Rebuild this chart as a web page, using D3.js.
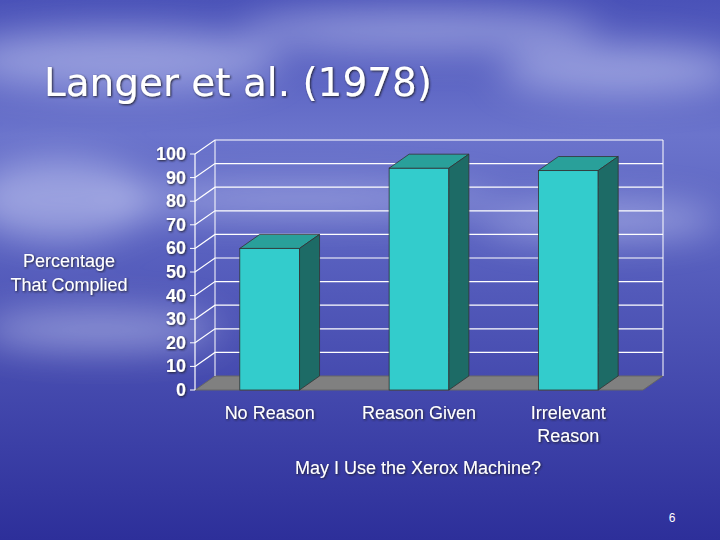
<!DOCTYPE html>
<html><head><meta charset="utf-8">
<script src="https://cdn.jsdelivr.net/npm/d3@7"></script>
<style>body{margin:0}svg{display:block}</style>
</head><body>
<script>
var categories = [['No Reason'], ['Reason Given'], ['Irrelevant', 'Reason']];
var values = [60, 94, 93];
var ticks = [0, 10, 20, 30, 40, 50, 60, 70, 80, 90, 100];

var W = 720, H = 540, dx = 20, dy = -14;
var svg = d3.select('body').append('svg').attr('width', W).attr('height', H);
var defs = svg.append('defs');
var bg = defs.append('linearGradient').attr('id', 'bg').attr('x1', 0).attr('y1', 0).attr('x2', 0).attr('y2', 1);
bg.append('stop').attr('offset', 0).attr('stop-color', '#4a52b8');
bg.append('stop').attr('offset', 0.25).attr('stop-color', '#6b74cc');
bg.append('stop').attr('offset', 0.45).attr('stop-color', '#5a62c0');
bg.append('stop').attr('offset', 1).attr('stop-color', '#2d2f9a');
defs.append('filter').attr('id', 'blur').append('feGaussianBlur').attr('stdDeviation', 18);
var sh = defs.append('filter').attr('id', 'sh');
sh.append('feDropShadow').attr('dx', 1).attr('dy', 1).attr('stdDeviation', 0.8).attr('flood-color', '#223');

svg.append('rect').attr('width', W).attr('height', H).attr('fill', 'url(#bg)');
// clouds
var clouds = [[120, 60, 160, 30], [420, 30, 180, 20], [620, 70, 120, 25], [60, 200, 90, 40], [300, 200, 200, 15], [600, 220, 120, 18], [100, 330, 120, 20]];
svg.append('g').attr('filter', 'url(#blur)').selectAll('ellipse').data(clouds).enter().append('ellipse')
  .attr('cx', d => d[0]).attr('cy', d => d[1]).attr('rx', d => d[2]).attr('ry', d => d[3])
  .attr('fill', '#dfe4ff').attr('opacity', 0.45);

svg.append('text').attr('x', 44).attr('y', 96).attr('font-family', 'Verdana, DejaVu Sans, sans-serif')
  .attr('font-size', 39).attr('textLength', 388).attr('fill', '#fff').attr('filter', 'url(#sh)').text('Langer et al. (1978)');

var x0 = 195, x1 = 643;
var y = d3.scaleLinear().domain([0, 100]).range([390, 154]);
var x = d3.scaleBand().domain(d3.range(categories.length)).range([x0, x1]).paddingInner(0.6).paddingOuter(0.3);

var g = svg.append('g');
var line = '#fff';
// floor
g.append('path').attr('d', `M${x0},390 L${x1},390 L${x1 + dx},${390 + dy} L${x0 + dx},${390 + dy}Z`)
  .attr('fill', '#808080').attr('stroke', '#666');
// grid on side and back walls
ticks.forEach(function(t) {
  if (t === 0) return;
  g.append('path').attr('d', `M${x0},${y(t)} L${x0 + dx},${y(t) + dy} L${x1 + dx},${y(t) + dy}`)
    .attr('fill', 'none').attr('stroke', line).attr('stroke-width', 1.2);
});
g.append('line').attr('x1', x0 + dx).attr('x2', x0 + dx).attr('y1', y(0) + dy).attr('y2', y(100) + dy).attr('stroke', line);
g.append('line').attr('x1', x1 + dx).attr('x2', x1 + dx).attr('y1', y(0) + dy).attr('y2', y(100) + dy).attr('stroke', line);
g.append('line').attr('x1', x0).attr('x2', x0).attr('y1', y(0)).attr('y2', y(100)).attr('stroke', line).attr('stroke-width', 1.2);
g.selectAll('.tk').data(ticks).enter().append('line').attr('x1', x0 - 5).attr('x2', x0).attr('y1', d => y(d)).attr('y2', d => y(d)).attr('stroke', line);
g.selectAll('.tl').data(ticks).enter().append('text').attr('x', x0 - 9).attr('y', d => y(d) + 6).attr('text-anchor', 'end')
  .attr('font-family', 'Arial, Liberation Sans, sans-serif').attr('font-weight', 'bold').attr('font-size', 18)
  .attr('fill', '#fff').attr('filter', 'url(#sh)').text(d => d);

// bars
var bars = g.selectAll('.bar').data(values).enter().append('g');
bars.append('rect').attr('x', (d, i) => x(i)).attr('width', x.bandwidth()).attr('y', d => y(d)).attr('height', d => y(0) - y(d))
  .attr('fill', '#33cccc').attr('stroke', '#333').attr('stroke-width', 0.8);
bars.append('path').attr('d', (d, i) => `M${x(i)},${y(d)} L${x(i) + dx},${y(d) + dy} L${x(i) + x.bandwidth() + dx},${y(d) + dy} L${x(i) + x.bandwidth()},${y(d)}Z`)
  .attr('fill', '#29a09a').attr('stroke', '#333').attr('stroke-width', 0.8);
bars.append('path').attr('d', (d, i) => { var r = x(i) + x.bandwidth(); return `M${r},${y(d)} L${r + dx},${y(d) + dy} L${r + dx},${y(0) + dy} L${r},${y(0)}Z`; })
  .attr('fill', '#1d6b66').attr('stroke', '#333').attr('stroke-width', 0.8);

var font = 'Arial, Liberation Sans, sans-serif';
categories.forEach(function(c, i) {
  c.forEach(function(s, j) {
    svg.append('text').attr('x', x(i) + x.bandwidth() / 2).attr('y', 419 + j * 23).attr('text-anchor', 'middle')
      .attr('font-family', font).attr('font-size', 18).attr('fill', '#fff').attr('filter', 'url(#sh)').text(s);
  });
});
svg.append('text').attr('x', 418).attr('y', 474).attr('text-anchor', 'middle').attr('font-family', font)
  .attr('font-size', 18).attr('fill', '#fff').attr('filter', 'url(#sh)').text('May I Use the Xerox Machine?');
['Percentage', 'That Complied'].forEach(function(s, j) {
  svg.append('text').attr('x', 69).attr('y', 267 + j * 24).attr('text-anchor', 'middle').attr('font-family', font)
    .attr('font-size', 18).attr('fill', '#fff').attr('filter', 'url(#sh)').text(s);
});
svg.append('text').attr('x', 672).attr('y', 522).attr('text-anchor', 'middle').attr('font-family', font)
  .attr('font-size', 12).attr('fill', '#fff').text('6');
</script>
</body></html>
